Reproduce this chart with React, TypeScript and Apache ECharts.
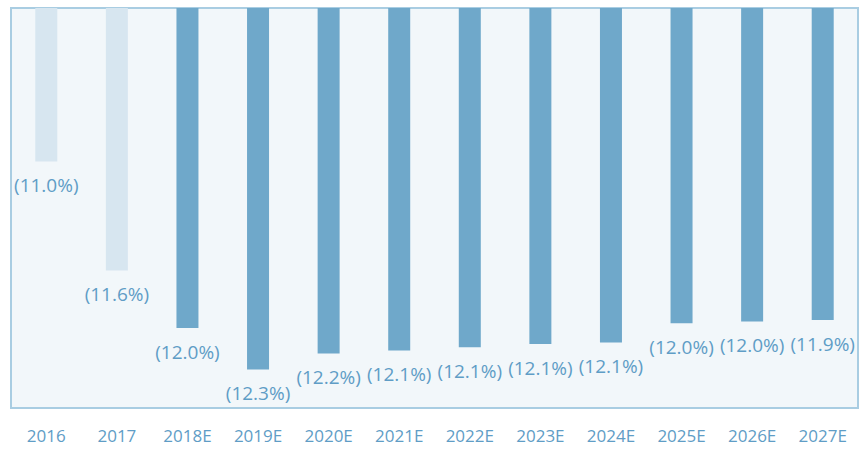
import React, { useEffect, useRef } from "react";
import * as echarts from "echarts";

// Years shown along the bottom axis
const years = ["2016", "2017", "2018E", "2019E", "2020E", "2021E", "2022E", "2023E", "2024E", "2025E", "2026E", "2027E"];
// Margin per year, in percent (negative values, printed in parentheses)
const margins = [-10.96, -11.64, -12.0, -12.26, -12.16, -12.14, -12.12, -12.1, -12.09, -11.97, -11.96, -11.95];
// Number of leading years that are actuals (lighter bars)
const actualCount = 2;

const ACTUAL_COLOR = "#d7e6f0";
const ESTIMATE_COLOR = "#6fa8ca";
const TEXT_COLOR = "#5f9dc6";
const FONT = "'Open Sans', sans-serif";

export default function App() {
  const ref = useRef<HTMLDivElement>(null);

  useEffect(() => {
    if (!ref.current) return;
    const chart = echarts.init(ref.current, undefined, { renderer: "svg" });
    chart.setOption({
      animation: false,
      grid: {
        left: 11,
        right: 2,
        top: 8,
        bottom: 41,
        show: true,
        backgroundColor: "#f2f7fa",
        borderColor: "#a9cde2",
        borderWidth: 2,
      },
      xAxis: {
        type: "category",
        data: years,
        axisLine: { show: false },
        axisTick: { show: false },
        axisLabel: {
          color: TEXT_COLOR,
          fontSize: 17,
          fontFamily: FONT,
          margin: 19,
        },
      },
      yAxis: {
        type: "value",
        min: -12.5,
        max: -10,
        show: false,
        splitLine: { show: false },
      },
      series: [
        {
          type: "bar",
          barWidth: 22,
          clip: true,
          data: margins.map((v, i) => ({
            value: v,
            itemStyle: { color: i < actualCount ? ACTUAL_COLOR : ESTIMATE_COLOR },
          })),
          label: {
            show: true,
            position: "bottom",
            distance: 14,
            color: TEXT_COLOR,
            fontSize: 19,
            fontFamily: FONT,
            formatter: (p: any) => `(${Math.abs(p.value).toFixed(1)}%)`,
          },
        },
      ],
    });
    return () => chart.dispose();
  }, []);

  return <div ref={ref} style={{ width: 860, height: 449, position: "absolute", left: 0, top: 0 }} />;
}
